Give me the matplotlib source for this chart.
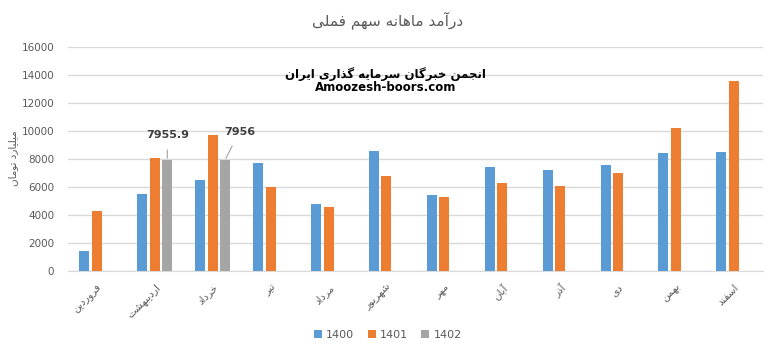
import numpy as np
import matplotlib
matplotlib.use("Agg")
import matplotlib.pyplot as plt

# --- data (billion toman) ---
months = ["فروردین", "اردیبهشت", "خرداد", "تیر", "مرداد", "شهریور",
          "مهر", "آبان", "آذر", "دی", "بهمن", "اسفند"]
v1400 = [1400, 5500, 6500, 7700, 4800, 8600, 5400, 7450, 7250, 7600, 8450, 8500]
v1401 = [4250, 8100, 9700, 6000, 4600, 6800, 5250, 6300, 6100, 7000, 10200, 13600]
v1402 = [np.nan, 7955.9, 7956, np.nan, np.nan, np.nan,
         np.nan, np.nan, np.nan, np.nan, np.nan, np.nan]
series_names = ["1400", "1401", "1402"]
yticks = [0, 2000, 4000, 6000, 8000, 10000, 12000, 14000, 16000]

title_txt = "درآمد ماهانه سهم فملی"
ylabel_txt = "میلیارد تومان"
mark1 = "انجمن خبرگان سرمایه گذاری ایران"
mark2 = "Amoozesh-boors.com"

########### simple arabic/persian shaping ###########
# letter: (isolated, final, initial, medial) ; None initial -> right-joining only
forms = {
    "ا": (0xFE8D, 0xFE8E, None, None),
    "آ": (0xFE81, 0xFE82, None, None),
    "ب": (0xFE8F, 0xFE90, 0xFE91, 0xFE92),
    "ت": (0xFE95, 0xFE96, 0xFE97, 0xFE98),
    "ج": (0xFE9D, 0xFE9E, 0xFE9F, 0xFEA0),
    "خ": (0xFEA5, 0xFEA6, 0xFEA7, 0xFEA8),
    "د": (0xFEA9, 0xFEAA, None, None),
    "ذ": (0xFEAB, 0xFEAC, None, None),
    "ر": (0xFEAD, 0xFEAE, None, None),
    "ز": (0xFEAF, 0xFEB0, None, None),
    "س": (0xFEB1, 0xFEB2, 0xFEB3, 0xFEB4),
    "ش": (0xFEB5, 0xFEB6, 0xFEB7, 0xFEB8),
    "ف": (0xFED1, 0xFED2, 0xFED3, 0xFED4),
    "ل": (0xFEDD, 0xFEDE, 0xFEDF, 0xFEE0),
    "م": (0xFEE1, 0xFEE2, 0xFEE3, 0xFEE4),
    "ن": (0xFEE5, 0xFEE6, 0xFEE7, 0xFEE8),
    "ه": (0xFEE9, 0xFEEA, 0xFEEB, 0xFEEC),
    "و": (0xFEED, 0xFEEE, None, None),
    "ی": (0xFBFC, 0xFBFD, 0xFBFE, 0xFBFF),
    "گ": (0xFB92, 0xFB93, 0xFB94, 0xFB95),
}

def fa(s):
    out = []
    for i, c in enumerate(s):
        if c not in forms:
            out.append(c)
            continue
        prev = s[i-1] if i > 0 else None
        nxt = s[i+1] if i < len(s)-1 else None
        join_prev = prev in forms and forms[prev][2] is not None
        join_next = forms[c][2] is not None and nxt in forms
        f = forms[c]
        if join_prev and join_next:
            g = f[3]
        elif join_prev:
            g = f[1]
        elif join_next:
            g = f[2]
        else:
            g = f[0]
        out.append(chr(g))
    return "".join(out)[::-1]

################# plot #################
plt.rcParams['font.family'] = ['DejaVu Sans']
txt = "#595959"
grid = "#D9D9D9"
colors = ["#5B9BD5", "#ED7D31", "#A5A5A5"]

fig = plt.figure(figsize=(7.76, 3.51), dpi=100)
ax = fig.add_axes([0.0876, 0.228, 0.8954, 0.638])

x = np.arange(len(months))
step = 0.216
w = 0.172
for k, vals in enumerate([v1400, v1401, v1402]):
    ax.bar(x + (k - 1) * step, vals, width=w, color=colors[k],
           label=series_names[k], zorder=3)

ax.set_xlim(-0.5, len(months) - 0.5)
ax.set_ylim(0, 16000)
ax.set_yticks(yticks)
ax.set_yticklabels([str(t) for t in yticks], fontsize=7.5, color=txt)
ax.yaxis.grid(True, color=grid, linewidth=1, zorder=0)
ax.tick_params(axis='both', length=0)
ax.tick_params(axis='y', pad=10)
for s in ["top", "right", "left"]:
    ax.spines[s].set_visible(False)
ax.spines["bottom"].set_color(grid)

ax.set_xticks(x)
ax.set_xticklabels([fa(m) for m in months], rotation=45, ha='right',
                   va='top', rotation_mode='anchor', fontsize=7.5, color=txt)
ax.tick_params(axis='x', pad=8)

# data labels for 1402
ax.annotate("7955.9", xy=(1 + step, v1402[1]), xytext=(1 + step, 9700),
            ha='center', va='center', fontsize=8, fontweight='bold', color="#404040",
            arrowprops=dict(arrowstyle='-', color="#A5A5A5", lw=0.8,
                            shrinkA=5, shrinkB=1, relpos=(0.5, 0)))
ax.annotate("7956", xy=(2 + step, v1402[2]), xytext=(2.47, 9930),
            ha='center', va='center', fontsize=8, fontweight='bold', color="#404040",
            arrowprops=dict(arrowstyle='-', color="#A5A5A5", lw=0.8,
                            shrinkA=5, shrinkB=1, relpos=(0.4, 0)))

fig.text(0.5, 0.943, fa(title_txt), ha='center', va='center', fontsize=11, color=txt)
fig.text(0.017, 0.55, fa(ylabel_txt), rotation=90, ha='center', va='center',
         fontsize=7.5, color=txt)
fig.text(0.497, 0.79, fa(mark1), ha='center', va='center', fontsize=8.5,
         fontweight='bold', color='black')
fig.text(0.497, 0.752, mark2, ha='center', va='center', fontsize=8.5,
         fontweight='bold', color='black')

fig.legend(loc='center', bbox_to_anchor=(0.5, 0.045), ncol=3, frameon=False,
           fontsize=8, labelcolor=txt, handlelength=0.7, handleheight=0.7,
           handletextpad=0.4, columnspacing=1.2)

fig.savefig("out.png", dpi=100)
